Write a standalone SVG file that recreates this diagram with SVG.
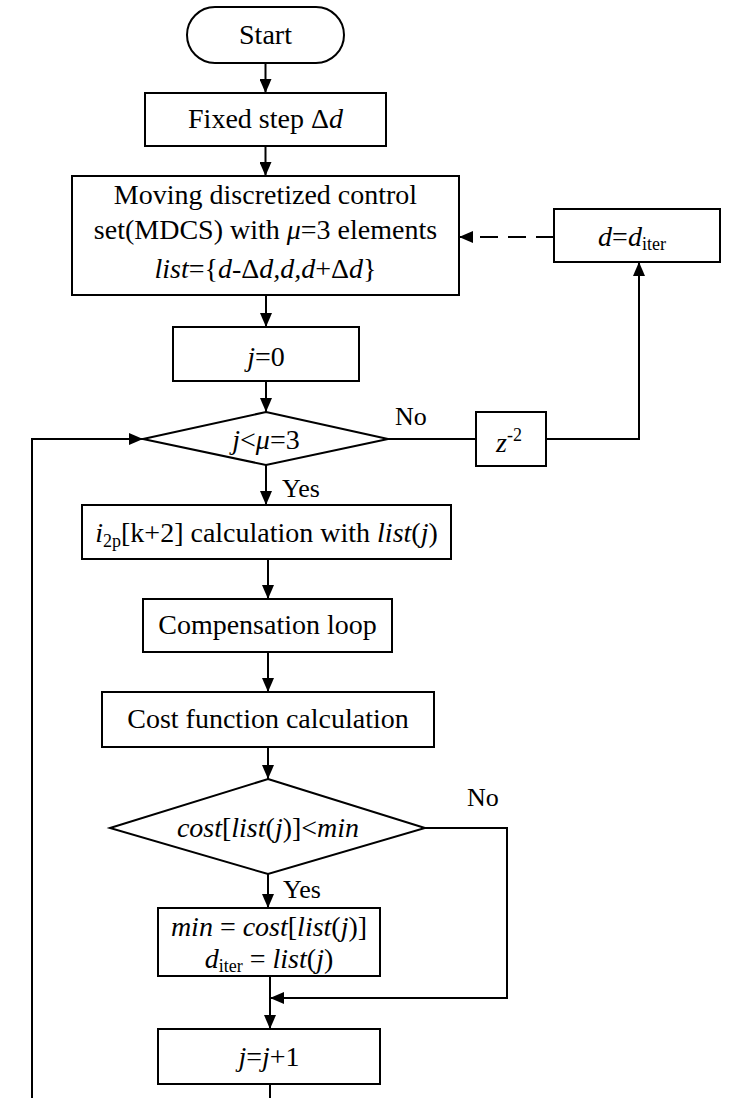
<svg xmlns="http://www.w3.org/2000/svg" width="735" height="1098" viewBox="0 0 735 1098" font-family="'Liberation Serif','Times New Roman','DejaVu Serif',serif">
<defs>
<style>
.box{fill:#fff;stroke:#000;stroke-width:2}
.ln{fill:none;stroke:#000;stroke-width:2}
text{font-family:'Liberation Serif','Times New Roman','DejaVu Serif',serif}
.t{font-size:28px;fill:#000;text-anchor:middle}
.lbl{font-size:26px;fill:#000}
.i{font-style:italic}
</style>
<marker id="ah" viewBox="0 0 14 12" refX="14" refY="6" markerWidth="14" markerHeight="12" orient="auto" markerUnits="userSpaceOnUse"><path d="M0,0 L14,6 L0,12 z" fill="#000"/></marker>
</defs>
<g id="connectors">
<line class="ln" x1="265.5" y1="63" x2="265.5" y2="93" marker-end="url(#ah)"/>
<line class="ln" x1="265.5" y1="146" x2="265.5" y2="176" marker-end="url(#ah)"/>
<line class="ln" x1="266" y1="295" x2="266" y2="327" marker-end="url(#ah)"/>
<line class="ln" x1="266" y1="381" x2="266" y2="412" marker-end="url(#ah)"/>
<line class="ln" x1="266" y1="465" x2="266" y2="505" marker-end="url(#ah)"/>
<line class="ln" x1="268" y1="559" x2="268" y2="599" marker-end="url(#ah)"/>
<line class="ln" x1="268" y1="652" x2="268" y2="692" marker-end="url(#ah)"/>
<line class="ln" x1="268" y1="747" x2="268" y2="779" marker-end="url(#ah)"/>
<line class="ln" x1="268" y1="874" x2="268" y2="908" marker-end="url(#ah)"/>
<line class="ln" x1="270" y1="976" x2="270" y2="1029" marker-end="url(#ah)"/>
<line class="ln" x1="270" y1="1084" x2="270" y2="1098"/>
<polyline class="ln" points="32,1098 32,439 143,439" marker-end="url(#ah)"/>
<line class="ln" x1="388" y1="439" x2="476" y2="439"/>
<polyline class="ln" points="546,439 639,439 639,262" marker-end="url(#ah)"/>
<line class="ln" x1="554" y1="237" x2="459" y2="237" stroke-dasharray="18,10" marker-end="url(#ah)"/>
<polyline class="ln" points="425,828 507,828 507,998 270,998" marker-end="url(#ah)"/>
<text class="lbl" x="395" y="425">No</text>
<text class="lbl" x="282" y="497">Yes</text>
<text class="lbl" x="467" y="806">No</text>
<text class="lbl" x="283" y="898">Yes</text>
</g>
<g id="start">
<rect class="box" x="187" y="7" width="157" height="56" rx="28" ry="28"/>
<text class="t" x="265.5" y="44">Start</text>
</g>
<g id="fixed-step">
<rect class="box" x="145" y="93" width="241" height="53"/>
<text class="t" x="265.5" y="128">Fixed step Δ<tspan class="i">d</tspan></text>
</g>
<g id="mdcs">
<rect class="box" x="72" y="176" width="387" height="119"/>
<text class="t" x="265.5" y="204">Moving discretized control</text>
<text class="t" x="265.5" y="239">set(MDCS) with <tspan class="i">μ</tspan>=3 elements</text>
<text class="t" x="265.5" y="278"><tspan class="i">list</tspan>={<tspan class="i">d</tspan>-Δ<tspan class="i">d,d,d</tspan>+Δ<tspan class="i">d</tspan>}</text>
</g>
<g id="d-iter">
<rect class="box" x="554" y="209" width="166" height="53"/>
<text class="t" x="632" y="246"><tspan class="i">d</tspan>=<tspan class="i">d</tspan><tspan font-size="18" dy="4">iter</tspan></text>
</g>
<g id="j0">
<rect class="box" x="173" y="327" width="186" height="54"/>
<text class="t" x="266" y="366"><tspan class="i">j</tspan>=0</text>
</g>
<g id="cond-j">
<polygon class="box" points="266,412 388,439 266,465 143,439"/>
<text class="t" x="266" y="449"><tspan class="i">j</tspan>&lt;<tspan class="i">μ</tspan>=3</text>
</g>
<g id="z2">
<rect class="box" x="476" y="412" width="70" height="54"/>
<text class="t" x="509" y="452"><tspan class="i">z</tspan><tspan font-size="18" dy="-11">-2</tspan></text>
</g>
<g id="i2p">
<rect class="box" x="82" y="505" width="369" height="54"/>
<text class="t" x="266.5" y="542"><tspan class="i">i</tspan><tspan font-size="18" dy="5">2p</tspan><tspan dy="-5">[k+2] calculation with </tspan><tspan class="i">list</tspan>(<tspan class="i">j</tspan>)</text>
</g>
<g id="compensation">
<rect class="box" x="143" y="599" width="249" height="53"/>
<text class="t" x="267.5" y="634">Compensation loop</text>
</g>
<g id="cost">
<rect class="box" x="102" y="692" width="332" height="55"/>
<text class="t" x="268" y="728">Cost function calculation</text>
</g>
<g id="cond-cost">
<polygon class="box" points="268,779 425,828 268,874 110,828"/>
<text class="t" x="268" y="837"><tspan class="i">cost</tspan>[<tspan class="i">list</tspan>(<tspan class="i">j</tspan>)]&lt;<tspan class="i">min</tspan></text>
</g>
<g id="min-update">
<rect class="box" x="158" y="908" width="222" height="68"/>
<text class="t" x="269" y="936"><tspan class="i">min</tspan> = <tspan class="i">cost</tspan>[<tspan class="i">list</tspan>(<tspan class="i">j</tspan>)]</text>
<text class="t" x="269" y="968"><tspan class="i">d</tspan><tspan font-size="18" dy="4">iter</tspan><tspan dy="-4"> = </tspan><tspan class="i">list</tspan>(<tspan class="i">j</tspan>)</text>
</g>
<g id="j-inc">
<rect class="box" x="158" y="1029" width="222" height="55"/>
<text class="t" x="269" y="1066"><tspan class="i">j</tspan>=<tspan class="i">j</tspan>+1</text>
</g>
</svg>
